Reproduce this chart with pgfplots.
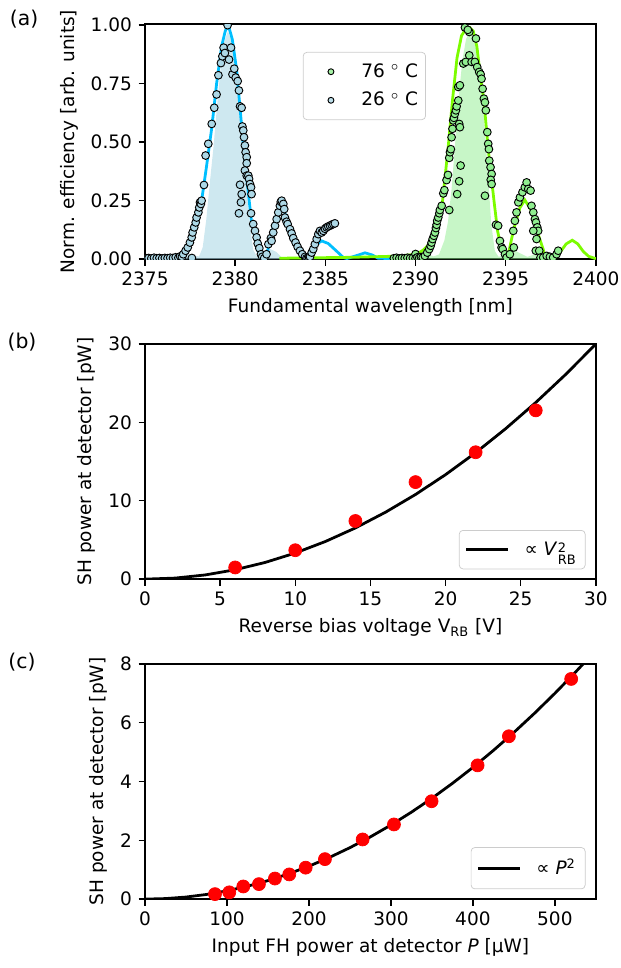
\documentclass[border=0pt]{standalone}
\usepackage{fontspec}
\setmainfont{DejaVu Sans}
\usepackage{amsmath}
\usepackage{pgfplots}
\pgfplotsset{compat=1.18}
\definecolor{skyb}{HTML}{00BFFF}
\definecolor{lawn}{HTML}{7CFC00}
\definecolor{lblue}{HTML}{ADD8E6}
\definecolor{lgreen}{HTML}{90EE90}

\pgfplotsset{
  panel/.style={scale only axis, width=243.5pt, height=127pt,
    axis line style={line width=0.8pt}, tick style={black,line width=0.8pt},
    major tick length=3.5pt, tick align=outside, tick pos=left,
    /pgf/number format/assume math mode=true,
    /pgf/number format/1000 sep={}, scaled ticks=false,
    label style={font=\normalsize}, tick label style={font=\normalsize},
    legend cell align=left,
    legend style={draw=black!20, rounded corners=2pt, fill=white, fill opacity=0.8,
      text opacity=1, inner sep=3pt, font=\normalsize}},
  linelegend/.style={legend image code/.code={\draw[##1, line width=1.5pt] (0cm,0cm) -- (0.8cm,0cm);}},
}

\begin{document}
\begin{tikzpicture}
\path[use as bounding box] (-78.3pt,12.96pt) rectangle (257pt,-509.8pt);

% (a) phase matching curves
\begin{axis}[panel, at={(0pt,0pt)}, anchor=north west,
  xmin=2375, xmax=2400, ymin=0, ymax=1.005,
  xtick={2375,2380,2385,2390,2395,2400}, ytick={0,0.25,0.5,0.75,1},
  yticklabel style={/pgf/number format/.cd,fixed,fixed zerofill,precision=2},
  xlabel={Fundamental wavelength [nm]}, ylabel={Norm. efficiency [arb. units]},
  clip marker paths=true,
  legend style={at={(0.35,0.881)}, anchor=north west, row sep=2.5pt, inner xsep=2pt, inner ysep=4pt},
  legend image code/.code={\path (0cm,-3pt) (0.95cm,3pt); \draw[mark repeat=1,#1] plot coordinates {(0.45cm,0cm)};},
  legend image post style={mark size=1.6pt}]
  % shaded simulated profiles
  \addplot[draw=none, fill=lblue, fill opacity=0.6, forget plot] coordinates {
    (2376.5,0)(2377.0,0.008)(2377.4,0.02)(2377.7,0.015)(2378.0,0.012)(2378.2,0.05)
    (2378.4,0.17)(2378.6,0.33)(2378.8,0.48)(2379.0,0.66)(2379.2,0.82)(2379.4,0.93)
    (2379.6,0.975)(2379.8,0.93)(2380.0,0.82)(2380.2,0.66)(2380.4,0.48)(2380.6,0.32)
    (2380.8,0.16)(2381.0,0.04)(2381.2,0.012)(2381.5,0.03)(2381.9,0.045)(2382.3,0.03)
    (2382.6,0.006)(2383.2,0.004)(2384.0,0.006)(2384.5,0.002)(2385.0,0)} \closedcycle;
  \addplot[draw=none, fill=lgreen, fill opacity=0.5, forget plot] coordinates {
    (2389.5,0)(2390.0,0.01)(2390.4,0.03)(2390.7,0.02)(2391.0,0.012)(2391.3,0.02)
    (2391.6,0.08)(2391.8,0.16)(2392.0,0.3)(2392.2,0.5)(2392.4,0.7)(2392.6,0.85)
    (2392.8,0.94)(2393.0,0.975)(2393.2,0.96)(2393.4,0.9)(2393.6,0.78)(2393.8,0.6)
    (2394.0,0.38)(2394.2,0.15)(2394.4,0.035)(2394.6,0.01)(2395.0,0.02)(2395.4,0.042)
    (2395.8,0.025)(2396.2,0.01)(2396.6,0.02)(2397.0,0.01)(2397.4,0)} \closedcycle;
  % fitted curves
  \addplot[skyb, line width=1.5pt, forget plot] coordinates {
    (2375,0.003)(2376,0.004)(2376.6,0.006)(2377.0,0.012)(2377.4,0.035)(2377.77,0.135)
    (2378.14,0.25)(2378.4,0.39)(2378.7,0.56)(2378.97,0.75)(2379.25,0.91)(2379.45,0.975)
    (2379.62,1.0)(2379.84,0.94)(2380.08,0.81)(2380.3,0.62)(2380.49,0.45)(2380.69,0.31)
    (2380.9,0.165)(2381.19,0.05)(2381.4,0.008)(2381.55,0.0)(2381.75,0.02)(2382.02,0.107)
    (2382.3,0.195)(2382.54,0.228)(2382.75,0.2)(2382.95,0.135)(2383.2,0.08)(2383.4,0.05)
    (2383.65,0.018)(2383.87,0.003)(2384.1,0.02)(2384.42,0.06)(2384.8,0.078)(2385.16,0.067)
    (2385.6,0.036)(2386.0,0.007)(2386.2,0.003)(2386.6,0.012)(2387.2,0.027)(2387.6,0.018)
    (2387.93,0.004)(2388.5,0.003)(2389.5,0.004)(2390.5,0.003)};
  \addplot[lawn, line width=1.5pt, forget plot] coordinates {
    (2382.45,0.004)(2383.5,0.005)(2384.5,0.006)(2385.5,0.007)(2386.5,0.008)(2387.5,0.01)
    (2388.5,0.012)(2389.3,0.015)(2389.87,0.02)(2390.2,0.028)(2390.43,0.039)(2390.7,0.06)
    (2390.98,0.093)(2391.26,0.164)(2391.5,0.25)(2391.8,0.47)(2392.05,0.68)(2392.3,0.86)
    (2392.55,0.955)(2392.8,0.985)(2393.0,0.99)(2393.2,0.975)(2393.4,0.91)(2393.6,0.78)
    (2393.79,0.68)(2394.03,0.47)(2394.35,0.25)(2394.55,0.12)(2394.77,0.043)(2395.01,0.0)
    (2395.2,0.04)(2395.42,0.121)(2395.79,0.22)(2396.06,0.253)(2396.43,0.207)(2396.8,0.107)
    (2397.17,0.02)(2397.45,0.0)(2397.7,0.01)(2398.0,0.028)(2398.35,0.065)(2398.69,0.081)
    (2399.0,0.065)(2399.3,0.033)(2399.6,0.012)(2400,0.002)};
  % measured data
  \addplot[only marks, mark=*, mark size=2.1pt, mark options={fill=lgreen, draw=black, line width=0.5pt}] coordinates {
    (2388.8,0.004)(2388.95,0.006)(2389.1,0.003)(2389.25,0.005)(2389.4,0.004)(2389.55,0.006)
    (2389.7,0.004)(2389.85,0.005)(2390.0,0.022)(2390.0,0.003)(2390.1,0.008)(2390.2,0.005)
    (2390.3,0.009)(2390.4,0.007)
    (2390.52,0.014)(2390.65,0.028)(2390.76,0.043)(2390.84,0.057)(2390.89,0.071)(2390.95,0.086)
    (2391.02,0.1)(2391.08,0.114)(2391.13,0.133)(2391.17,0.147)(2391.2,0.164)(2391.26,0.178)
    (2391.32,0.196)(2391.35,0.21)(2391.45,0.228)(2391.54,0.281)(2391.6,0.295)(2391.72,0.338)
    (2391.8,0.36)(2391.87,0.433)(2391.91,0.457)(2391.96,0.47)(2392.0,0.521)(2392.05,0.557)
    (2392.09,0.593)(2392.13,0.604)(2392.18,0.621)(2392.24,0.636)(2392.28,0.653)(2392.37,0.678)
    (2392.37,0.736)(2392.46,0.743)(2392.42,0.578)(2392.46,0.564)(2392.31,0.278)(2392.42,0.333)
    (2392.5,0.4)(2391.87,0.21)(2392.65,0.836)(2392.79,0.843)(2392.98,0.871)(2393.11,0.843)
    (2392.74,0.99)(2392.98,0.971)(2392.9,0.98)(2393.35,0.943)(2393.29,0.843)(2393.42,0.821)
    (2393.53,0.8)(2393.61,0.79)(2393.66,0.771)(2393.72,0.728)(2393.79,0.686)(2393.85,0.67)
    (2393.9,0.636)(2393.98,0.543)(2394.03,0.493)(2394.07,0.47)(2394.09,0.421)(2394.16,0.393)
    (2394.22,0.364)(2394.17,0.339)(2394.22,0.321)(2393.85,0.271)(2394.46,0.147)(2394.58,0.143)
    (2394.68,0.078)(2394.77,0.05)(2394.83,0.043)(2394.96,0.021)(2395.05,0.007)(2395.23,0.021)
    (2395.42,0.121)(2395.45,0.05)(2395.51,0.164)(2395.6,0.2)(2395.7,0.243)(2395.79,0.264)
    (2395.93,0.286)(2396.06,0.307)(2396.16,0.328)(2396.25,0.3)(2396.38,0.293)(2396.43,0.228)
    (2396.53,0.2)(2396.62,0.171)(2396.68,0.157)(2396.75,0.136)(2396.8,0.121)(2396.53,0.121)
    (2396.71,0.086)(2396.67,0.036)(2396.86,0.036)(2396.93,0.007)(2397.08,0.007)(2397.27,0.014)
    (2397.45,0.01)(2397.63,0.007)(2397.82,0.021)(2397.91,0.036)};
  \addlegendentry{76 $^\circ$ C}
  \addplot[only marks, mark=*, mark size=2.1pt, mark options={fill=lblue, draw=black, line width=0.5pt}] coordinates {
    (2375.05,0.004)(2375.2,0.005)(2375.35,0.003)(2375.5,0.006)(2375.65,0.004)(2375.8,0.005)
    (2375.95,0.003)(2376.1,0.005)(2376.25,0.004)(2376.4,0.006)(2376.55,0.005)(2376.7,0.008)
    (2376.85,0.006)(2376.95,0.012)(2377.05,0.01)(2377.6,0.005)
    (2377.12,0.021)(2377.25,0.036)(2377.37,0.05)(2377.49,0.071)(2377.59,0.093)(2377.64,0.114)
    (2377.73,0.136)(2377.81,0.157)(2377.86,0.178)(2377.96,0.2)(2378.01,0.221)(2378.05,0.243)
    (2378.1,0.236)(2378.14,0.25)(2378.27,0.317)(2378.36,0.443)(2378.51,0.493)(2378.7,0.578)
    (2378.84,0.647)(2378.97,0.704)(2379.07,0.786)(2379.21,0.838)(2379.29,0.867)(2379.36,0.904)
    (2379.43,0.881)(2379.58,1.0)(2379.66,0.853)(2379.77,0.904)(2379.85,0.79)(2379.95,0.814)
    (2380.03,0.776)(2380.14,0.761)(2380.21,0.721)(2380.27,0.653)(2380.36,0.647)(2380.4,0.567)
    (2380.45,0.55)(2380.49,0.521)(2380.54,0.486)(2380.58,0.457)(2380.64,0.436)(2380.64,0.41)
    (2380.54,0.379)(2380.64,0.357)(2380.73,0.357)(2380.77,0.343)(2380.82,0.321)(2380.88,0.307)
    (2380.91,0.278)(2380.27,0.318)(2380.36,0.278)(2380.32,0.243)(2380.21,0.196)(2380.88,0.196)
    (2381.0,0.15)(2381.1,0.121)(2381.19,0.093)(2381.25,0.067)(2381.34,0.047)(2381.43,0.021)
    (2381.5,0.01)(2381.61,0.004)(2381.74,0.021)(2381.84,0.064)(2381.98,0.09)(2382.02,0.078)
    (2382.11,0.114)(2382.21,0.143)(2382.3,0.171)(2382.39,0.2)(2382.48,0.228)(2382.53,0.245)
    (2382.58,0.25)(2382.67,0.236)(2382.72,0.214)(2382.76,0.178)(2382.85,0.16)(2382.91,0.15)
    (2383.04,0.128)(2383.13,0.11)(2383.22,0.09)(2383.35,0.071)(2383.46,0.053)(2383.59,0.036)
    (2383.72,0.021)(2383.87,0.01)(2383.95,0.004)(2384.02,0.004)(2384.1,0.006)(2384.15,0.01)
    (2384.24,0.028)(2384.33,0.043)(2384.42,0.064)(2384.52,0.086)(2384.61,0.107)(2384.7,0.121)
    (2384.8,0.114)(2384.89,0.121)(2384.98,0.13)(2385.07,0.136)(2385.16,0.14)(2385.26,0.143)
    (2385.35,0.147)(2385.44,0.15)(2385.53,0.153)};
  \addlegendentry{26 $^\circ$ C}
\end{axis}

% (b) voltage dependence
\begin{axis}[panel, linelegend, at={(0pt,-172.8pt)}, anchor=north west,
  xmin=0, xmax=30, ymin=0, ymax=30,
  xtick={0,5,10,15,20,25,30}, ytick={0,10,20,30},
  xlabel={Reverse bias voltage V\textsubscript{RB} [V]}, ylabel={SH power at detector [pW]},
  legend style={at={(0.977,0.042)}, anchor=south east, inner ysep=4pt}]
  \addplot[black, line width=1.5pt] coordinates {
    (0,0)(2,0.133)(4,0.533)(6,1.2)(8,2.133)(10,3.333)(12,4.8)(14,6.533)(16,8.533)
    (18,10.8)(20,13.333)(22,16.133)(24,19.2)(26,22.533)(28,26.133)(30,30)};
  \addlegendentry{\hspace{6pt}∝ \textit{V}\kern0.3pt\raisebox{-0.35ex}{\scriptsize\renewcommand{\arraystretch}{0.72}\begin{tabular}[c]{@{}l@{}}2\\RB\end{tabular}}}
  \addplot[only marks, mark=*, mark size=3.5pt, red, forget plot] coordinates {
    (6,1.49)(10,3.69)(14,7.42)(18,12.38)(22,16.19)(26,21.53)};
\end{axis}

% (c) power dependence
\begin{axis}[panel, linelegend, at={(0pt,-345.6pt)}, anchor=north west,
  xmin=0, xmax=550, ymin=0, ymax=8,
  xtick={0,100,200,300,400,500}, ytick={0,2,4,6,8},
  xlabel={Input FH power at detector \textit{P} [µW]}, ylabel={SH power at detector [pW]},
  legend style={at={(0.977,0.042)}, anchor=south east, inner ysep=4pt}]
  \addplot[black, line width=1.5pt] coordinates {
    (0,0)(25,0.0175)(50,0.07)(75,0.158)(100,0.28)(125,0.438)(150,0.63)(175,0.858)
    (200,1.12)(225,1.418)(250,1.75)(275,2.118)(300,2.52)(325,2.958)(350,3.43)(375,3.938)
    (400,4.48)(425,5.058)(450,5.67)(475,6.318)(500,7.0)(525,7.718)(540,8.165)};
  \addlegendentry{\hspace{6pt}∝ \textit{P}\textsuperscript{2}}
  \addplot[only marks, mark=*, mark size=3.5pt, red, forget plot] coordinates {
    (85.4,0.17)(102.8,0.23)(119.9,0.43)(139,0.51)(158.5,0.70)(176,0.84)(196,1.07)
    (219.5,1.36)(265.5,2.03)(303.7,2.54)(349.6,3.33)(405.7,4.55)(443.9,5.54)(519.9,7.49)};
\end{axis}

\node[font=\fontsize{11}{13}\selectfont] at (-65.3pt,2.7pt) {(a)};
\node[font=\fontsize{11}{13}\selectfont] at (-66.4pt,-171.7pt) {(b)};
\node[font=\fontsize{11}{13}\selectfont] at (-66.4pt,-344.5pt) {(c)};
\end{tikzpicture}
\end{document}
